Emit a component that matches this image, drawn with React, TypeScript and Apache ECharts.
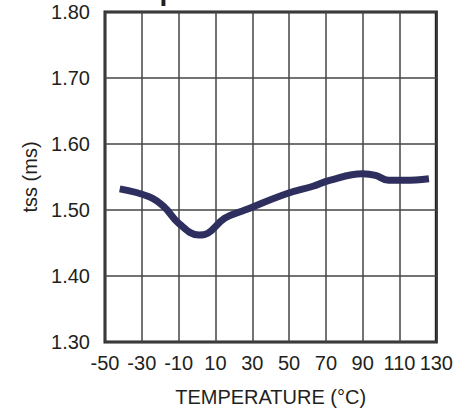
import React, { useEffect, useRef } from "react";
import * as echarts from "echarts";

const temps = [-42, -26, -18, -10, 1, 6, 15, 26, 49, 63, 72, 90, 97, 104, 113, 126];
const tss = [1.532, 1.52, 1.505, 1.48, 1.462, 1.465, 1.4875, 1.5, 1.525, 1.536, 1.545, 1.555, 1.5525, 1.545, 1.545, 1.5475];
const xTicks = [-50, -30, -10, 10, 30, 50, 70, 90, 110, 130];
const yTicks = [1.3, 1.4, 1.5, 1.6, 1.7, 1.8];
const titleText = "Temperature";
const xName = "TEMPERATURE (°C)";
const yName = "tss (ms)";

const FONT = "'Liberation Sans', Arial, Helvetica, sans-serif";
const INK = "#231f20";

export default function App() {
  const ref = useRef<HTMLDivElement>(null);
  useEffect(() => {
    if (!ref.current) return;
    const chart = echarts.init(ref.current, undefined, { renderer: "svg" });
    chart.setOption({
      animation: false,
      backgroundColor: "#ffffff",
      textStyle: { fontFamily: FONT },
      grid: {
        left: 105,
        right: 14.5,
        top: 12,
        bottom: 63.5,
        show: true,
        borderColor: INK,
        borderWidth: 3,
        containLabel: false,
      },
      graphic: [
        {
          type: "text",
          left: 104,
          top: -23.5,
          style: { text: titleText, font: `bold 28px ${FONT}`, fill: INK },
        },
        {
          type: "text",
          left: -7,
          top: 362,
          style: { text: ")", font: `20px ${FONT}`, fill: INK },
        },
      ],
      xAxis: {
        type: "value",
        min: xTicks[0],
        max: xTicks[xTicks.length - 1],
        interval: 20,
        name: xName,
        nameLocation: "middle",
        nameGap: 45,
        nameTextStyle: { fontSize: 20, color: INK, fontFamily: FONT },
        axisLine: { show: false },
        axisTick: { show: false },
        axisLabel: { fontSize: 20, color: INK, margin: 11, fontFamily: FONT },
        splitLine: { show: true, lineStyle: { color: "#444", width: 1.5 } },
      },
      yAxis: {
        type: "value",
        min: yTicks[0],
        max: yTicks[yTicks.length - 1],
        interval: 0.1,
        name: yName,
        nameLocation: "middle",
        nameGap: 59,
        nameRotate: 90,
        nameTextStyle: { fontSize: 20, color: INK, fontFamily: FONT },
        axisLine: { show: false },
        axisTick: { show: false },
        axisLabel: {
          fontSize: 20,
          color: INK,
          margin: 15,
          fontFamily: FONT,
          formatter: (v: number) => v.toFixed(2),
        },
        splitLine: { show: true, lineStyle: { color: "#444", width: 1.5 } },
      },
      series: [
        {
          type: "line",
          data: temps.map((t, i) => [t, tss[i]]),
          smooth: 0.4,
          showSymbol: false,
          lineStyle: { color: "#2f2f5f", width: 7, cap: "butt" },
        },
      ],
    });
    return () => chart.dispose();
  }, []);
  return (
    <div
      ref={ref}
      style={{ position: "fixed", left: 0, top: 0, width: 456, height: 412 }}
    />
  );
}
